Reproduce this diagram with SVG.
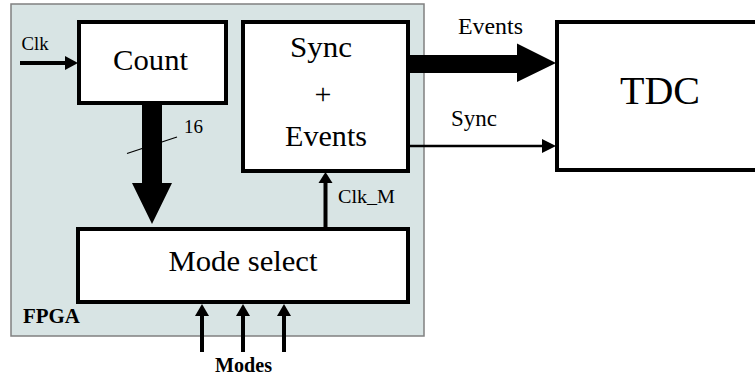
<svg xmlns="http://www.w3.org/2000/svg" width="755" height="380" viewBox="0 0 755 380">
<style>
.box{fill:#ffffff;stroke:#000000;stroke-width:4}
text{font-family:"Liberation Serif","DejaVu Serif","Times New Roman",serif;fill:#000000}
.big{font-size:30px}
.b{font-weight:bold;font-size:20px}
.ln{stroke:#000;fill:none}
.hd{fill:#000;stroke:none}
</style>
<rect width="755" height="380" fill="#ffffff"/>
<g id="fpga">
<rect x="11" y="4" width="413" height="332" fill="#d8e4e4" stroke="#808080" stroke-width="1.5"/>
<text class="b" x="23" y="323" textLength="57" lengthAdjust="spacingAndGlyphs">FPGA</text>
</g>
<g id="connectors">
<line class="ln" x1="20" y1="63" x2="67" y2="63" stroke-width="4"/>
<polygon class="hd" points="65,56 78,63 65,70"/>
<text x="21.5" y="50" font-size="18" textLength="27" lengthAdjust="spacingAndGlyphs">Clk</text>
<polygon class="hd" points="142,105 162,105 162,183 172,183 152,224 132,183 142,183"/>
<line class="ln" x1="127" y1="153.5" x2="177" y2="137" stroke-width="1.2"/>
<text x="184" y="133" font-size="19" textLength="19" lengthAdjust="spacingAndGlyphs">16</text>
<polygon class="hd" points="410,55 517,55 517,43.5 556,63 517,82 517,73 410,73"/>
<text x="458" y="34" font-size="23" textLength="65" lengthAdjust="spacingAndGlyphs">Events</text>
<line class="ln" x1="410" y1="146" x2="544" y2="146" stroke-width="2.5"/>
<polygon class="hd" points="542,139 556,146 542,153"/>
<text x="451" y="126" font-size="23" textLength="46" lengthAdjust="spacingAndGlyphs">Sync</text>
<line class="ln" x1="325.5" y1="228" x2="325.5" y2="181" stroke-width="4"/>
<polygon class="hd" points="318.5,183 325.5,172 332.5,183"/>
<text x="338" y="203" font-size="19.5" textLength="57" lengthAdjust="spacingAndGlyphs">Clk_M</text>
<line class="ln" x1="202" y1="352" x2="202" y2="313" stroke-width="4"/>
<polygon class="hd" points="195,316 202,304 209,316"/>
<line class="ln" x1="243" y1="352" x2="243" y2="313" stroke-width="4"/>
<polygon class="hd" points="236,316 243,304 250,316"/>
<line class="ln" x1="284" y1="352" x2="284" y2="313" stroke-width="4"/>
<polygon class="hd" points="277,316 284,304 291,316"/>
<text class="b" x="215" y="372" textLength="57" lengthAdjust="spacingAndGlyphs">Modes</text>
</g>
<g id="count">
<rect class="box" x="79" y="22" width="147" height="81"/>
<text class="big" x="113" y="70" textLength="75" lengthAdjust="spacingAndGlyphs">Count</text>
</g>
<g id="sync-events">
<rect class="box" x="243" y="22" width="165" height="149"/>
<text class="big" x="290" y="57" textLength="62" lengthAdjust="spacingAndGlyphs">Sync</text>
<text class="big" x="323" y="104" text-anchor="middle">+</text>
<text class="big" x="285" y="146" textLength="82" lengthAdjust="spacingAndGlyphs">Events</text>
</g>
<g id="tdc">
<rect class="box" x="557" y="22" width="210" height="148"/>
<text x="620" y="104" font-size="40" textLength="80" lengthAdjust="spacingAndGlyphs">TDC</text>
</g>
<g id="mode-select">
<rect class="box" x="78" y="229" width="330" height="73"/>
<text class="big" x="168.5" y="271" textLength="149" lengthAdjust="spacingAndGlyphs">Mode select</text>
</g>
</svg>
